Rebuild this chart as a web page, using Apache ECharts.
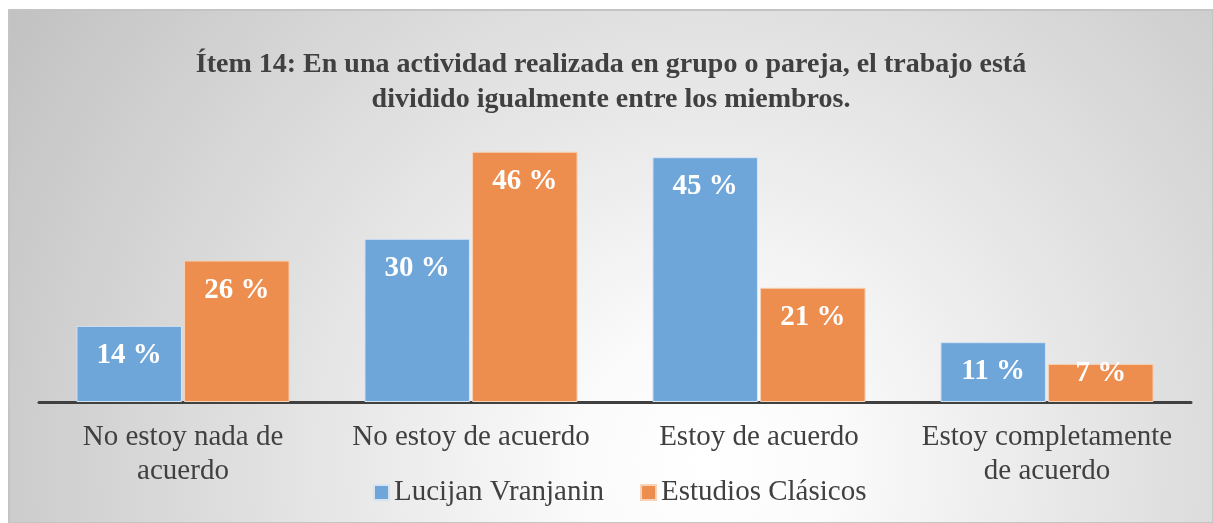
<!DOCTYPE html>
<html>
<head>
    <meta charset="utf-8">
    <title>Ítem 14</title>
    <script src="https://cdn.jsdelivr.net/npm/echarts@6/dist/echarts.min.js"></script>
    <style>
        body { margin: 0; background: #fff; }
        #main { width: 1213px; height: 523px; }
    </style>
</head>
<body>
    <div id="main"></div>
    <script type="text/javascript">
        // datos del gráfico
        var categorias = ['No estoy nada de\nacuerdo', 'No estoy de acuerdo', 'Estoy de acuerdo', 'Estoy completamente\nde acuerdo'];
        var lucijan = [14, 30, 45, 11];
        var estudios = [26, 46, 21, 7];
        var series_names = ['Lucijan Vranjanin', 'Estudios Clásicos'];

        var serif = '"Liberation Serif", "DejaVu Serif", serif';
        var myChart = echarts.init(document.getElementById('main'));

        var etiqueta = {
            show: true,
            position: 'insideTop',
            distance: 15,
            color: '#ffffff',
            fontFamily: serif,
            fontWeight: 'bold',
            fontSize: 29,
            formatter: '{c} %'
        };

        // barras muy bajas: la etiqueta sube un poco (como en Excel)
        function conEtiqueta(arr) {
            return arr.map(function (v) {
                if (v < 10) return { value: v, label: { distance: -5 } };
                return v;
            });
        }

        var option = {
            backgroundColor: '#ffffff',
            graphic: [{
                type: 'rect',
                z: -10,
                silent: true,
                shape: { x: 9, y: 10, width: 1204, height: 513 },
                style: {
                    fill: new echarts.graphic.RadialGradient(0.58, 0.88, 1.6, [
                        { offset: 0, color: '#ffffff' },
                        { offset: 0.15, color: '#fbfbfb' },
                        { offset: 1, color: '#c2c2c2' }
                    ]),
                    stroke: '#c4c4c4',
                    lineWidth: 2
                }
            }],
            title: {
                text: 'Ítem 14: En una actividad realizada en grupo o pareja, el trabajo está\ndividido igualmente entre los miembros.',
                left: 606,
                top: 42,
                textAlign: 'center',
                textStyle: {
                    fontFamily: serif,
                    fontWeight: 'bold',
                    fontSize: 28,
                    color: '#404040',
                    lineHeight: 35
                }
            },
            legend: {
                data: series_names,
                top: 473,
                left: 368,
                itemWidth: 15,
                itemHeight: 15,
                itemGap: 36,
                icon: 'rect',
                textStyle: {
                    fontFamily: serif,
                    fontSize: 29,
                    color: '#404040'
                }
            },
            grid: {
                left: 39,
                right: 22,
                top: 130,
                bottom: 121,
                containLabel: false
            },
            xAxis: {
                type: 'category',
                data: categorias,
                axisLine: { lineStyle: { color: '#404040', width: 3 } },
                axisTick: { show: false },
                axisLabel: {
                    fontFamily: serif,
                    fontSize: 29,
                    color: '#404040',
                    lineHeight: 34,
                    margin: 18,
                    interval: 0
                }
            },
            yAxis: {
                type: 'value',
                min: 0,
                max: 50,
                show: false,
                splitLine: { show: false }
            },
            series: [{
                name: series_names[0],
                type: 'bar',
                data: conEtiqueta(lucijan),
                barGap: '2%',
                barCategoryGap: '26%',
                itemStyle: { color: '#6fa6da', borderColor: '#d6e4f2', borderWidth: 1 },
                label: etiqueta
            }, {
                name: series_names[1],
                type: 'bar',
                data: conEtiqueta(estudios),
                itemStyle: { color: '#ed8e4e', borderColor: '#f5d2b8', borderWidth: 1 },
                label: etiqueta
            }]
        };

        myChart.setOption(option);
    </script>
</body>
</html>
